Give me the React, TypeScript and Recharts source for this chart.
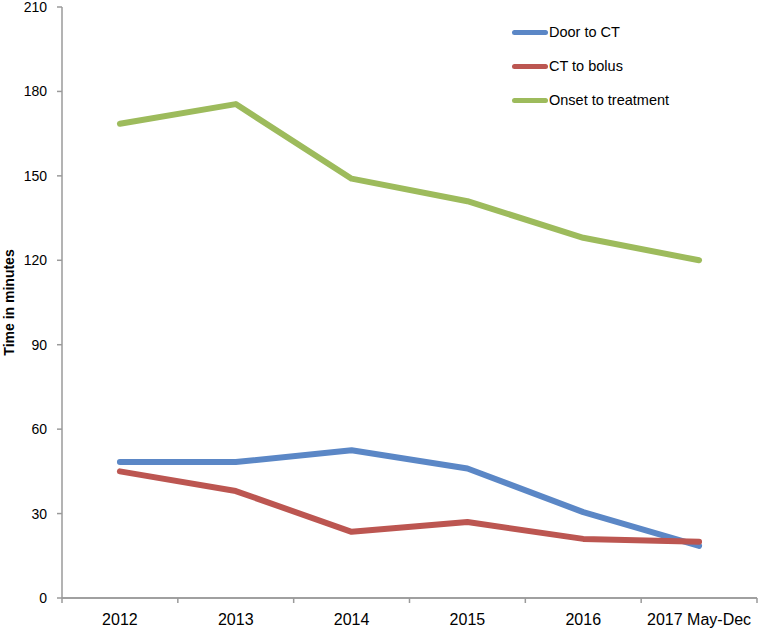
import React from "react";
import { LineChart, Line, XAxis, YAxis, Legend, ReferenceLine } from "recharts";

const categories = ["2012", "2013", "2014", "2015", "2016", "2017 May-Dec"];
const doorToCT = [48.3, 48.3, 52.5, 46, 30.5, 18.5];
const ctToBolus = [45, 38, 23.5, 27, 21, 20];
const onsetToTreatment = [168.5, 175.5, 149, 141, 128, 120];
const yTicks = [0, 30, 60, 90, 120, 150, 180, 210];

const series = [
  { key: "door", name: "Door to CT", color: "#5B87C6", values: doorToCT },
  { key: "bolus", name: "CT to bolus", color: "#BC5651", values: ctToBolus },
  { key: "onset", name: "Onset to treatment", color: "#9DBB5C", values: onsetToTreatment },
];

const data = categories.map((c, i) => ({
  cat: c,
  door: doorToCT[i],
  bolus: ctToBolus[i],
  onset: onsetToTreatment[i],
}));

const W = 760;
const H = 631;
const M = { top: 7, right: 3, left: 0, bottom: 0 };
const YW = 62;
const XH = 33;
const FONT = "'Liberation Sans', Arial, sans-serif";
const AXIS = "#9a9a9a";

const XTick = (props: any) => {
  const { x, y, payload, index } = props;
  const band = (W - M.left - M.right - YW) / categories.length;
  const half = band / 2;
  return (
    <g>
      <line x1={x - half} x2={x - half} y1={y} y2={y + 5} stroke={AXIS} strokeWidth={1.5} />
      {index === categories.length - 1 && (
        <line x1={x + half} x2={x + half} y1={y} y2={y + 5} stroke={AXIS} strokeWidth={1.5} />
      )}
      <text x={x} y={y + 27} textAnchor="middle" fontFamily={FONT} fontSize={16} fill="#000">
        {payload.value}
      </text>
    </g>
  );
};

const LegendContent = () => (
  <div style={{ fontFamily: FONT, fontSize: 14.5, color: "#000" }}>
    {series.map((s) => (
      <div key={s.key} style={{ display: "flex", alignItems: "center", height: 34 }}>
        <div style={{ width: 36, height: 5, borderRadius: 3, background: s.color, marginRight: 1 }} />
        <span>{s.name}</span>
      </div>
    ))}
  </div>
);

export default function App() {
  return (
    <div style={{ position: "absolute", left: 0, top: 0, width: W, height: H, background: "#fff" }}>
      <LineChart width={W} height={H} data={data} margin={M}>
        <XAxis
          dataKey="cat"
          scale="band"
          height={XH}
          axisLine={{ stroke: AXIS, strokeWidth: 1.5 }}
          tickLine={false}
          tickSize={0}
          tickMargin={0}
          tick={<XTick />}
          interval={0}
        />
        <YAxis
          width={YW}
          domain={[0, 210]}
          ticks={yTicks}
          interval={0}
          axisLine={{ stroke: AXIS, strokeWidth: 1.5 }}
          tickLine={{ stroke: AXIS, strokeWidth: 1.5 }}
          tickSize={5}
          tickMargin={10}
          tick={{ fontFamily: FONT, fontSize: 14, fill: "#000" }}
          label={{
            value: "Time in minutes",
            angle: -90,
            position: "insideLeft",
            offset: 9,
            style: { fontFamily: FONT, fontSize: 14, fontWeight: "bold", fill: "#000", textAnchor: "middle" },
          }}
        />
        <ReferenceLine y={0} stroke={AXIS} strokeWidth={1.5} ifOverflow="visible" />
        <Legend
          verticalAlign="middle"
          align="center"
          layout="horizontal"
          content={<LegendContent />}
          wrapperStyle={{ left: 512, top: 15, width: 220 }}
        />
        {series.map((s) => (
          <Line
            key={s.key}
            dataKey={s.key}
            name={s.name}
            stroke={s.color}
            strokeWidth={6}
            strokeLinecap="round"
            strokeLinejoin="round"
            dot={false}
            activeDot={false}
            isAnimationActive={false}
          />
        ))}
      </LineChart>
    </div>
  );
}
